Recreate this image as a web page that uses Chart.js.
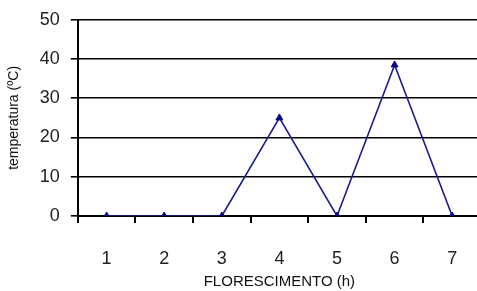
<!DOCTYPE html>
<html>
<head>
<meta charset="utf-8">
<script src="https://cdn.jsdelivr.net/npm/chart.js@4"></script>
<style>
  html, body { margin: 0; padding: 0; background: #fff; overflow: hidden; }
  #wrap { width: 486px; height: 293px; margin-top: -2px; }
</style>
</head>
<body>
<div id="wrap"><canvas id="grafico"></canvas></div>
<script>
// dados
var categorias = ['1', '2', '3', '4', '5', '6', '7'];
var temperatura = [0, 0, 0, 25, 0, 38.5, 0];
var yMin = 0, yMax = 50, yPasso = 10;

var fonte = "'Liberation Sans', Arial, sans-serif";

new Chart(document.getElementById('grafico'), {
    type: 'line',
    data: {
        labels: categorias,
        datasets: [{
            data: temperatura,
            borderColor: '#1c1c8f',
            borderWidth: 1.6,
            backgroundColor: '#0a0a80',
            pointStyle: 'triangle',
            pointRadius: 4,
            pointBorderWidth: 1,
            pointBorderColor: '#0a0a80',
            tension: 0,
            fill: false
        }]
    },
    options: {
        responsive: true,
        maintainAspectRatio: false,
        animation: false,
        layout: {padding: {left: 6, top: 6, right: 0, bottom: 0}},
        plugins: {
            legend: {display: false},
            tooltip: {enabled: false}
        },
        scales: {
            x: {
                offset: true,
                grid: {
                    offset: true,
                    drawOnChartArea: false,
                    drawTicks: true,
                    tickLength: 7,
                    color: '#000',
                    lineWidth: 2
                },
                border: {display: true, color: '#000', width: 2},
                ticks: {
                    color: '#222',
                    padding: 25,
                    font: {family: fonte, size: 18}
                },
                title: {
                    display: true,
                    text: 'FLORESCIMENTO (h)',
                    color: '#111',
                    font: {family: fonte, size: 15},
                    padding: {top: -21.6, bottom: 0}
                }
            },
            y: {
                min: yMin,
                max: yMax,
                grid: {
                    color: '#000',
                    lineWidth: 1.6,
                    drawTicks: true,
                    tickLength: 7
                },
                border: {display: true, color: '#000', width: 2},
                ticks: {
                    stepSize: yPasso,
                    color: '#222',
                    padding: 11,
                    font: {family: fonte, size: 18}
                },
                title: {
                    display: true,
                    text: 'temperatura (ºC)',
                    color: '#111',
                    font: {family: fonte, size: 14},
                    padding: {top: 0, bottom: 6}
                }
            }
        }
    }
});
</script>
</body>
</html>
